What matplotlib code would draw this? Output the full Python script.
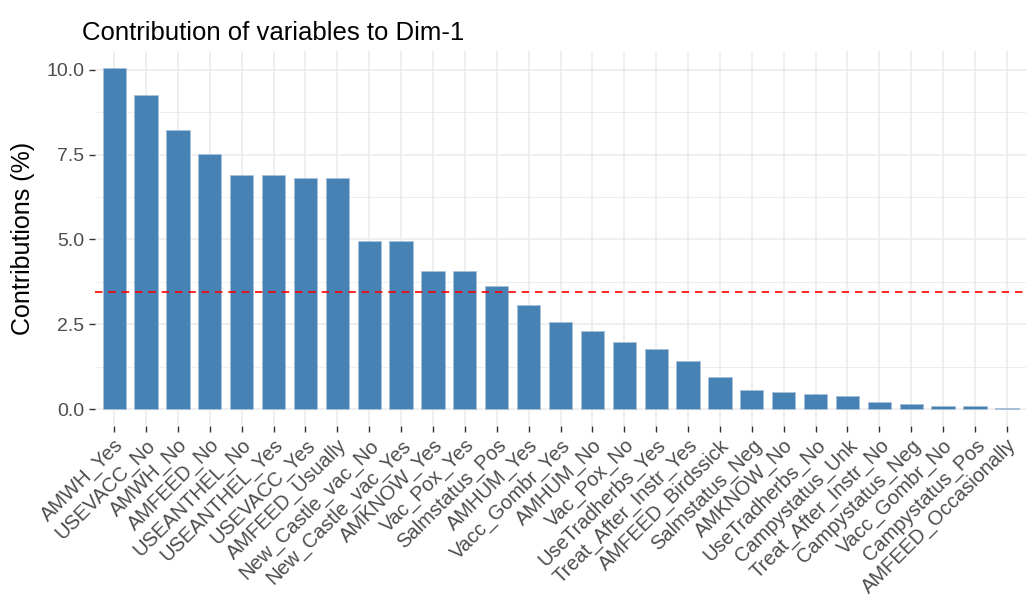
import matplotlib.pyplot as plt
from matplotlib.ticker import MultipleLocator

variables = ["AMWH_Yes", "USEVACC_No", "AMWH_No", "AMFEED_No", "USEANTHEL_No",
             "USEANTHEL_Yes", "USEVACC_Yes", "AMFEED_Usually", "New_Castle_vac_No",
             "New_Castle_vac_Yes", "AMKNOW_Yes", "Vac_Pox_Yes", "Salmstatus_Pos",
             "AMHUM_Yes", "Vacc_Gombr_Yes", "AMHUM_No", "Vac_Pox_No",
             "UseTradherbs_Yes", "Treat_After_Instr_Yes", "AMFEED_Birdssick",
             "Salmstatus_Neg", "AMKNOW_No", "UseTradherbs_No", "Campystatus_Unk",
             "Treat_After_Instr_No", "Campystatus_Neg", "Vacc_Gombr_No",
             "Campystatus_Pos", "AMFEED_Occasionally"]
contrib = [10.05, 9.24, 8.23, 7.52, 6.91, 6.91, 6.82, 6.82, 4.94, 4.94, 4.08, 4.08,
           3.63, 3.08, 2.57, 2.31, 1.97, 1.76, 1.42, 0.94, 0.55, 0.49, 0.44, 0.38,
           0.20, 0.14, 0.08, 0.08, 0.04]
expected = 100.0 / len(variables)

plt.rcParams['font.family'] = ['Liberation Sans', 'DejaVu Sans']

fig = plt.figure(figsize=(10.26, 6.0), dpi=100)
ax = fig.add_axes([0.0926, 0.29, 0.9074, 0.625])

x = range(len(variables))
ax.bar(x, contrib, width=0.73, color="steelblue", edgecolor="#a9c1da", linewidth=0.6, zorder=2)
ax.axhline(expected, color="red", linestyle=(0, (4.5, 3.5)), linewidth=1.2, zorder=3)

ax.set_xlim(-0.6, len(variables) - 0.4)
ax.set_ylim(-0.5, 10.55)
ax.yaxis.set_major_locator(MultipleLocator(2.5))
ax.yaxis.set_minor_locator(MultipleLocator(1.25))
ax.yaxis.set_major_formatter(plt.FuncFormatter(lambda v, p: f"{v:.1f}"))

ax.set_xticks(list(x))
ax.set_xticklabels(variables, rotation=45, ha="right", va="top", rotation_mode="anchor",
                   fontsize=14.5)

ax.grid(which="major", color="#ebebeb", linewidth=1.1, zorder=0)
ax.grid(which="minor", axis="y", color="#ebebeb", linewidth=0.6, zorder=0)
ax.set_axisbelow(True)
for s in ax.spines.values():
    s.set_visible(False)

ax.tick_params(axis="both", which="major", length=4, width=1, color="#333333",
               labelcolor="#4d4d4d")
ax.tick_params(axis="y", labelsize=14)
ax.tick_params(axis="y", which="minor", length=0)
ax.tick_params(axis="x", pad=3)

ax.set_ylabel("Contributions (%)", fontsize=18, color="black", labelpad=8)
ax.set_title("Contribution of variables to Dim-1", fontsize=18.5, loc="left",
             x=-0.014, pad=8)

fig.savefig("out.png", dpi=100)
